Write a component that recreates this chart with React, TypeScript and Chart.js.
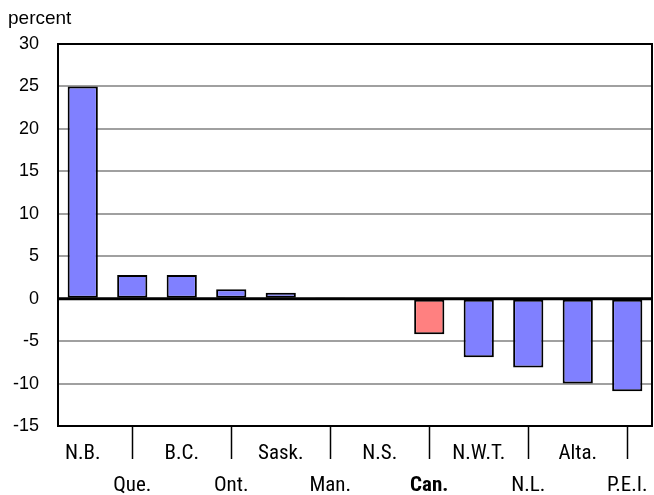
import React, { useEffect, useRef } from "react";
import { Chart, registerables } from "chart.js";

Chart.register(...registerables);

const categories = ["N.B.", "Que.", "B.C.", "Ont.", "Sask.", "Man.", "N.S.", "Can.", "N.W.T.", "N.L.", "Alta.", "P.E.I."];
const values = [25, 2.8, 2.8, 1.1, 0.7, 0.15, 0, -4.2, -6.9, -8.1, -10.0, -10.9];
const highlight = "Can.";
const yMin = -15;
const yMax = 30;
const yStep = 5;

const COND = "'Roboto Condensed', 'Liberation Sans Narrow', 'Arial Narrow', 'Liberation Sans', sans-serif";
const REG = "'Liberation Sans', Arial, Helvetica, sans-serif";

const boxPlugin = {
  id: "boxPlugin",
  afterDatasetsDraw(chart: any) {
    const { ctx, chartArea, scales } = chart;
    const y0 = scales.y.getPixelForValue(0);
    ctx.save();
    ctx.strokeStyle = "#000";
    ctx.lineWidth = 3;
    ctx.beginPath();
    ctx.moveTo(chartArea.left, y0);
    ctx.lineTo(chartArea.right, y0);
    ctx.stroke();
    ctx.lineWidth = 2;
    ctx.strokeRect(chartArea.left, chartArea.top, chartArea.right - chartArea.left, chartArea.bottom - chartArea.top);
    ctx.restore();
  },
};

export default function App() {
  const ref = useRef<HTMLCanvasElement | null>(null);
  useEffect(() => {
    if (!ref.current) return;
    const chart = new Chart(ref.current, {
      type: "bar",
      data: {
        labels: categories,
        datasets: [
          {
            data: values,
            backgroundColor: categories.map((c) => (c === highlight ? "#ff8080" : "#8080ff")),
            borderColor: "#000",
            borderWidth: 2,
            borderSkipped: false,
            barPercentage: 0.61,
            categoryPercentage: 1,
          },
        ],
      },
      options: {
        animation: false,
        responsive: false,
        layout: { padding: { left: 8, right: 2, top: 0, bottom: 0 } },
        plugins: {
          legend: { display: false },
          tooltip: { enabled: false },
          title: {
            display: true,
            text: "percent",
            align: "start",
            color: "#000",
            font: { family: REG, size: 19, weight: "normal", lineHeight: 1.2 },
            padding: { top: 7, bottom: 14.2 },
          },
        },
        scales: {
          x: {
            offset: true,
            grid: {
              offset: false,
              drawOnChartArea: false,
              drawTicks: true,
              tickLength: 33,
              tickWidth: 1.5,
              tickColor: (ctx: any) => (ctx.index % 2 ? "#000" : "rgba(0,0,0,0)"),
            },
            border: { display: false },
            ticks: {
              autoSkip: false,
              maxRotation: 0,
              minRotation: 0,
              padding: -22,
              color: "#000",
              font: (ctx: any) => ({
                family: COND,
                size: 21,
                weight: categories[ctx.index] === highlight ? "bold" : "normal",
                lineHeight: "32.5px",
              }),
              callback: (_v: any, i: number) => (i % 2 ? ["", categories[i]] : categories[i]),
            },
            afterFit: (scale: any) => {
              scale.height = 69;
            },
          },
          y: {
            min: yMin,
            max: yMax,
            grid: {
              color: "#a0a0a0",
              lineWidth: 2,
              drawTicks: false,
            },
            border: { display: false },
            ticks: {
              stepSize: yStep,
              padding: 19,
              color: "#000",
              font: { family: REG, size: 18 },
            },
            afterFit: (scale: any) => {
              scale.width = 50;
            },
          },
        },
      },
      plugins: [boxPlugin],
    });
    return () => chart.destroy();
  }, []);
  return (
    <div style={{ position: "absolute", left: 0, top: 0, width: 654, height: 495 }}>
      <canvas ref={ref} width={654} height={495} />
    </div>
  );
}
